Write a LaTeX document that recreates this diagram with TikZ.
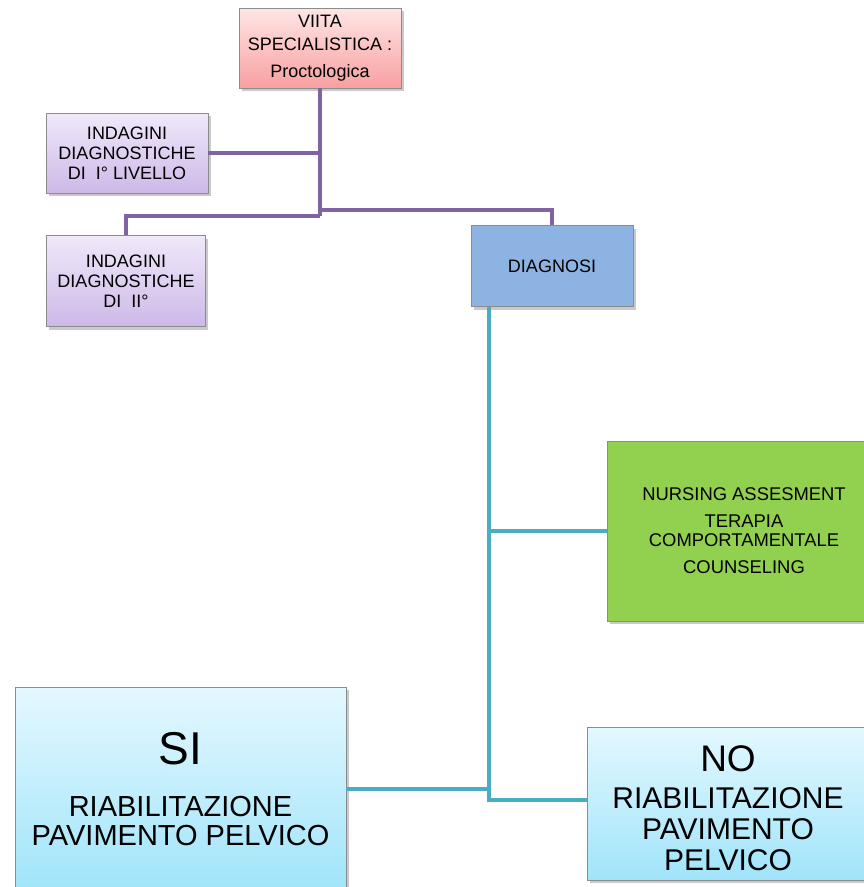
\documentclass[tikz,border=0pt]{standalone}
\usepackage{fontspec}
\setmainfont{Liberation Sans}
\usetikzlibrary{shadows}
\definecolor{purp}{HTML}{8064A2}
\definecolor{teal2}{HTML}{4BACC6}
\definecolor{bord}{HTML}{8C8C8C}
\tikzset{
  box/.style={draw=bord, line width=0.8pt, rectangle, align=center, inner sep=0pt,
    drop shadow={shadow xshift=2.5pt, shadow yshift=-3pt, opacity=0.35, fill=black!60}},
  pinkbox/.style={box, shading=axis, top color=pink!40!white, bottom color={rgb,255:red,248;green,160;blue,160},
    font=\fontsize{18}{23}\selectfont},
  lavbox/.style={box, shading=axis, top color={rgb,255:red,240;green,232;blue,250}, bottom color={rgb,255:red,205;green,185;blue,232},
    font=\fontsize{18}{20}\selectfont},
  bluebox/.style={box, fill={rgb,255:red,141;green,179;blue,226}, font=\fontsize{18}{20}\selectfont},
  greenbox/.style={box, fill={rgb,255:red,146;green,208;blue,80}, font=\fontsize{18.4}{19}\selectfont},
  cyanbox/.style={box, shading=axis, top color={rgb,255:red,228;green,248;blue,255}, bottom color={rgb,255:red,160;green,228;blue,250}},
  pline/.style={draw=purp, line width=4pt},
  tline/.style={draw=teal2, line width=4.5pt},
}
\begin{document}
\begin{tikzpicture}[x=1pt,y=-1pt]
\useasboundingbox (0,0) rectangle (863,887);
\fill[white] (0,0) rectangle (863,887);

\coordinate (pjl) at (320,216);
\coordinate (pjr) at (320,210);
\coordinate (pv) at (320,153);
\coordinate (t0) at (489,300);
\coordinate (t1) at (489,800);

\node[pinkbox, minimum width=162pt, minimum height=80pt] (viita) at (320,48)
  {VIITA\\SPECIALISTICA :\\[4pt]Proctologica};
\node[lavbox, minimum width=162pt, minimum height=80pt] (ind1) at (127,153)
  {INDAGINI\\DIAGNOSTICHE\\DI~~I° LIVELLO};
\node[lavbox, minimum width=159pt, minimum height=91pt] (ind2) at (126,281)
  {INDAGINI\\DIAGNOSTICHE\\DI~~II°};
\node[bluebox, minimum width=162pt, minimum height=81pt] (diag) at (552,266)
  {DIAGNOSI};
\node[greenbox, minimum width=274pt, minimum height=180pt] (green) at (744,531)
  {NURSING ASSESMENT\\[8pt]TERAPIA\\COMPORTAMENTALE\\[8pt]COUNSELING};
\node[cyanbox, minimum width=331pt, minimum height=204pt, font=\fontsize{29}{29}\selectfont] (si) at (180.5,789)
  {{\fontsize{46}{46}\selectfont SI}\\[23pt]RIABILITAZIONE\\PAVIMENTO PELVICO};
\node[cyanbox, minimum width=282pt, minimum height=153pt, font=\fontsize{30}{31}\selectfont] (no) at (728,803.5)
  {{\fontsize{37}{37}\selectfont\rule{0pt}{35pt}NO}\\[6pt]RIABILITAZIONE\\PAVIMENTO\\PELVICO};

% connectors
\draw[pline] (viita.south) -- (pjl);
\draw[pline] (ind1.east) -- (pv);
\draw[pline] (ind2.north) |- (pjl);
\draw[pline] (diag.north) |- (pjr);

\draw[tline] (t0 |- diag.south) -- (t1) -- (t1 -| no.west);
\draw[tline] (t0 |- green.west) -- (green.west);
\draw[tline] (si.east) -- (si.east -| t0);
\end{tikzpicture}
\end{document}
